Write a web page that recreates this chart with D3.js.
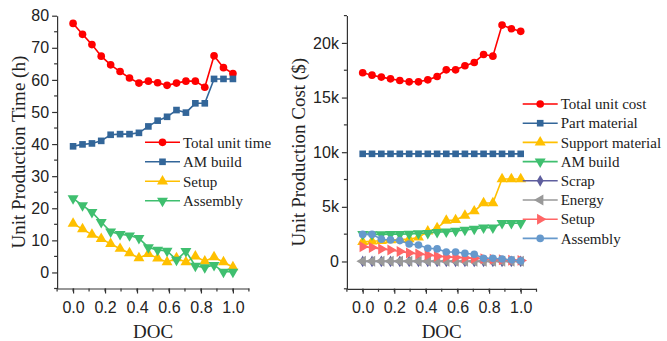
<!DOCTYPE html>
<html>
<head>
<meta charset="utf-8">
<script src="https://cdn.jsdelivr.net/npm/d3@7"></script>
<style>
  body { margin: 0; background: #fff; }
  svg { display: block; font-family: "Liberation Serif", "DejaVu Serif", serif; }
  .axis path, .axis line { stroke: #333; stroke-width: 1.2; }
  .axis text { fill: #222; font-size: 16px; }
</style>
</head>
<body>
<script>
//degree of customisation, 18 evenly spaced steps
var doc = [0, 0.059, 0.118, 0.176, 0.235, 0.294, 0.353, 0.412, 0.471,
           0.529, 0.588, 0.647, 0.706, 0.765, 0.824, 0.882, 0.941, 1.0];

//left panel - unit production time (h)
var totalTime   = [77.6, 74.2, 71.0, 67.4, 64.7, 62.6, 60.6, 59.0, 59.6, 59.1, 58.3, 59.0, 59.6, 59.6, 57.7, 67.5, 63.8, 62.0];
var amBuildTime = [39.3, 39.9, 40.2, 41.0, 42.9, 43.1, 43.1, 43.5, 45.5, 47.3, 48.5, 50.6, 49.8, 52.7, 52.7, 60.3, 60.3, 60.3];
var setupTime   = [15.2, 13.5, 11.8, 10.5, 8.9, 7.4, 6.0, 4.5, 5.8, 4.4, 3.2, 4.5, 3.2, 5.0, 3.5, 4.8, 3.2, 1.7];
var assemblyTime = [23.1, 20.9, 18.8, 15.7, 12.7, 11.9, 11.5, 10.7, 7.8, 7.0, 6.7, 3.9, 6.6, 2.0, 1.6, 2.3, 0.2, 0.2];

//right panel - unit production cost ($)
var totalCost = [17270, 17050, 16870, 16710, 16560, 16440, 16440, 16620, 16930, 17540, 17540, 17910, 18210, 18940, 18790, 21630, 21300, 21060];
var partMaterial = [9850, 9850, 9850, 9850, 9850, 9850, 9850, 9850, 9850, 9850, 9850, 9850, 9850, 9850, 9850, 9850, 9850, 9850];
var supportMaterial = [1800, 1850, 1900, 1950, 2000, 2050, 2200, 2750, 3050, 3750, 3800, 4200, 4600, 5350, 5350, 7550, 7550, 7550];
var amBuildCost = [2500, 2480, 2480, 2500, 2500, 2520, 2560, 2600, 2680, 2730, 2800, 2880, 2970, 3100, 3100, 3500, 3500, 3500];
var scrapCost = [0, 0, 0, 0, 0, 0, 0, 0, 0, 0, 0, 0, 0, 0, 0, 0, 0, 0];
var energyCost = [30, 30, 30, 30, 30, 30, 30, 30, 30, 30, 30, 30, 30, 30, 30, 30, 30, 30];
var setupCost = [1350, 1270, 1150, 1050, 920, 780, 680, 600, 480, 420, 380, 330, 300, 250, 200, 150, 120, 100];
var assemblyCost = [2480, 2480, 2040, 1970, 1910, 1600, 1510, 1210, 1150, 870, 870, 750, 660, 290, 290, 230, 140, 50];

var xTicks = [0, 0.2, 0.4, 0.6, 0.8, 1.0];
var timeTicks = [0, 10, 20, 30, 40, 50, 60, 70, 80];
var costTicks = [0, 5000, 10000, 15000, 20000];
var costTickLabels = ["0", "5k", "10k", "15k", "20k"];

var leftSeries = [
    {name: "Total unit time", values: totalTime, color: "#ff0000", marker: "circle"},
    {name: "AM build", values: amBuildTime, color: "#336699", marker: "square"},
    {name: "Setup", values: setupTime, color: "#ffc000", marker: "up"},
    {name: "Assembly", values: assemblyTime, color: "#3fbf6f", marker: "down"}
];
var rightSeries = [
    {name: "Total unit cost", values: totalCost, color: "#ff0000", marker: "circle"},
    {name: "Part material", values: partMaterial, color: "#336699", marker: "square"},
    {name: "Support material", values: supportMaterial, color: "#ffc000", marker: "up"},
    {name: "AM build", values: amBuildCost, color: "#3fbf6f", marker: "down"},
    {name: "Scrap", values: scrapCost, color: "#5e5e9e", marker: "diamond"},
    {name: "Energy", values: energyCost, color: "#999999", marker: "left"},
    {name: "Setup", values: setupCost, color: "#ff6666", marker: "right"},
    {name: "Assembly", values: assemblyCost, color: "#6699cc", marker: "circle"}
];

var width = 667, height = 341;
var svg = d3.select("body").append("svg")
    .attr("width", width)
    .attr("height", height);

//marker shapes
function markerPath(type){
    var sym = d3.symbol();
    if (type == "circle") return sym.type(d3.symbolCircle).size(46)();
    if (type == "square") return sym.type(d3.symbolSquare).size(44)();
    if (type == "diamond") return sym.type(d3.symbolDiamond).size(40)();
    return sym.type(d3.symbolTriangle).size(52)();
}
function markerRotate(type){
    if (type == "down") return 180;
    if (type == "left") return -90;
    if (type == "right") return 90;
    return 0;
}

function drawPanel(opt){
    var g = svg.append("g");
    var x = d3.scaleLinear().domain([-0.1, 1.1]).range(opt.xRange);
    var y = d3.scaleLinear().domain(opt.yDomain).range([opt.yBottom, opt.yTop]);

    //x axis
    var xAxis = g.append("g").attr("class", "axis")
        .attr("transform", "translate(0," + opt.yBottom + ")")
        .call(d3.axisBottom(x).tickValues(xTicks).tickFormat(d3.format(".1f"))
            .tickSize(5).tickSizeOuter(0).tickPadding(4));
    xAxis.selectAll("text").attr("dy", "0.95em");
    xAxis.append("g").selectAll("line")
        .data(d3.range(-1, 12).map(function(i){ return i / 10; }))
        .enter().append("line")
        .attr("x1", function(d){ return x(d); })
        .attr("x2", function(d){ return x(d); })
        .attr("y1", 0).attr("y2", 3);

    //y axis
    var yAxis = g.append("g").attr("class", "axis")
        .attr("transform", "translate(" + opt.xRange[0] + ",0)")
        .call(d3.axisLeft(y).tickValues(opt.yTicks).tickFormat(opt.yFormat)
            .tickSize(5).tickSizeOuter(0).tickPadding(3));
    yAxis.append("g").selectAll("line")
        .data(opt.minor)
        .enter().append("line")
        .attr("x1", 0).attr("x2", -3)
        .attr("y1", function(d){ return y(d); })
        .attr("y2", function(d){ return y(d); });

    //axis titles
    g.append("text")
        .attr("x", (x(0) + x(1)) / 2)
        .attr("y", 338)
        .attr("text-anchor", "middle")
        .style("font-size", "19px")
        .style("fill", "#222")
        .text("DOC");
    g.append("text")
        .attr("transform", "translate(" + opt.titleX + "," + (opt.yTop + opt.yBottom) / 2 + ") rotate(-90)")
        .attr("text-anchor", "middle")
        .attr("dy", "0.35em")
        .style("font-size", "19px")
        .style("fill", "#222")
        .text(opt.title);

    //series lines and markers
    var line = d3.line()
        .x(function(d, i){ return x(doc[i]); })
        .y(function(d){ return y(d); });

    opt.series.forEach(function(s){
        g.append("path")
            .datum(s.values)
            .attr("fill", "none")
            .attr("stroke", s.color)
            .attr("stroke-width", 1.6)
            .attr("d", line);
        g.selectAll(".m")
            .data(s.values)
            .enter()
            .append("path")
            .attr("d", markerPath(s.marker))
            .attr("fill", s.color)
            .attr("transform", function(d, i){
                return "translate(" + x(doc[i]) + "," + y(d) + ") rotate(" + markerRotate(s.marker) + ")";
            });
    });

    //legend
    var leg = g.selectAll(".legend")
        .data(opt.series)
        .enter().append("g")
        .attr("transform", function(d, i){
            return "translate(" + opt.legendX + "," + (opt.legendY + i * opt.legendStep) + ")";
        });
    leg.append("line")
        .attr("x1", 0).attr("x2", 35)
        .attr("stroke", function(d){ return d.color; })
        .attr("stroke-width", 1.6);
    leg.append("path")
        .attr("d", function(d){ return markerPath(d.marker); })
        .attr("fill", function(d){ return d.color; })
        .attr("transform", function(d){ return "translate(17.5,0) rotate(" + markerRotate(d.marker) + ")"; });
    leg.append("text")
        .attr("x", 38)
        .attr("dy", "0.35em")
        .style("font-size", "15px")
        .style("fill", "#222")
        .text(function(d){ return d.name; });
}

drawPanel({
    xRange: [57.1, 248.9],
    yDomain: [-5, 80], yTop: 15.7, yBottom: 288.5,
    yTicks: timeTicks, yFormat: d3.format("d"),
    minor: [-5, 5, 15, 25, 35, 45, 55, 65, 75],
    title: "Unit Production Time (h)", titleX: 18,
    series: leftSeries,
    legendX: 145, legendY: 142.3, legendStep: 19.5
});

drawPanel({
    xRange: [346.9, 536.5],
    yDomain: [-2500, 22500], yTop: 15.6, yBottom: 288.8,
    yTicks: costTicks, yFormat: function(d, i){ return costTickLabels[i]; },
    minor: [-2500, 2500, 7500, 12500, 17500, 22500],
    title: "Unit Production Cost ($)", titleX: 298,
    series: rightSeries,
    legendX: 522.7, legendY: 104, legendStep: 19.2
});
</script>
</body>
</html>
